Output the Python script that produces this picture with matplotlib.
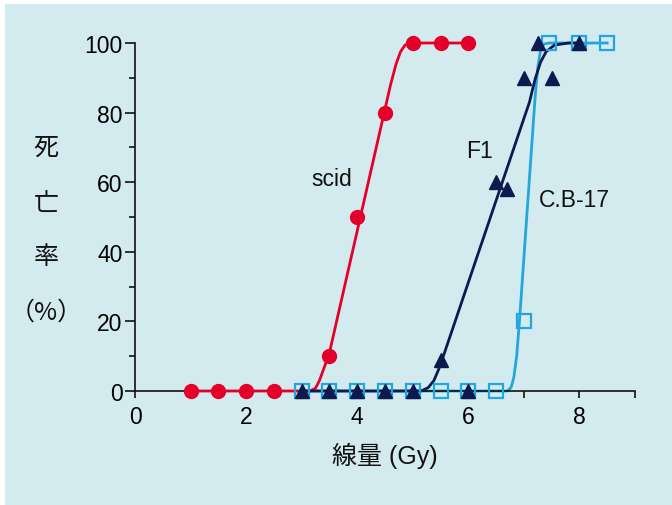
import matplotlib
matplotlib.use("Agg")
import matplotlib.pyplot as plt
from matplotlib.patches import Rectangle

plt.rcParams['font.family'] = ['Liberation Sans', 'Noto Sans CJK JP', 'DejaVu Sans']

# ---- data ----
scid_x = [1, 1.5, 2, 2.5, 3.5, 4, 4.5, 5, 5.5, 6]
scid_y = [0, 0, 0, 0, 10, 50, 80, 100, 100, 100]
f1_x = [3, 3.5, 4, 4.5, 5, 5.5, 6, 6.5, 6.7, 7, 7.5, 7.25, 8]
f1_y = [0, 0, 0, 0, 0, 9, 0, 60, 58, 90, 90, 100, 100]
cb_x = [3, 3.5, 4, 4.5, 5, 5.5, 6, 6.5, 7, 7.45, 8, 8.5]
cb_y = [0, 0, 0, 0, 0, 0, 0, 0, 20, 100, 100, 100]

# fitted curves
scid_fit_x = [1, 3.15, 3.25, 3.32, 3.4, 3.5, 4.6, 4.7, 4.78, 4.86, 4.95, 6]
scid_fit_y = [0, 0, 0.8, 3, 6.5, 11, 88, 94, 97.5, 99.4, 100, 100]
f1_fit_x = [3, 5.15, 5.28, 5.38, 5.46, 5.55, 7.1, 7.2, 7.3, 7.4, 7.55, 7.8, 8]
f1_fit_y = [0, 0, 1, 3, 6, 10, 83, 89.5, 94.5, 97.5, 99.4, 100, 100]
cb_fit_x = [3, 6.7, 6.77, 6.82, 6.87, 6.92, 7.2, 7.25, 7.3, 7.36, 7.45, 8.5]
cb_fit_y = [0, 0, 1, 4, 10, 20, 84, 93, 98, 99.7, 100, 100]

xticks = [0, 2, 4, 6, 8]
yticks = [0, 20, 40, 60, 80, 100]

red = '#e4002b'
navy = '#0d1a4f'
lblue = '#22a6dd'
bg = '#d3ebee'

fig = plt.figure(figsize=(6.72, 5.06), dpi=100, facecolor='white')
fig.patches.append(Rectangle((5/672, 0), 1, 1 - 5/506, transform=fig.transFigure,
                             facecolor=bg, edgecolor='none', zorder=-10))
ax = fig.add_axes([135/672, (506-392)/506, 500/672, 348/506])
ax.set_facecolor('none')
ax.set_xlim(0, 9)
ax.set_ylim(0, 100)
for s in ['top', 'right']:
    ax.spines[s].set_visible(False)
for s in ['left', 'bottom']:
    ax.spines[s].set_linewidth(1.2)
    ax.spines[s].set_color('#111111')

ax.plot(scid_fit_x, scid_fit_y, color=red, lw=2, zorder=3, clip_on=False)
ax.plot(f1_fit_x, f1_fit_y, color=navy, lw=2, zorder=3, clip_on=False)
ax.plot(cb_fit_x, cb_fit_y, color=lblue, lw=2, zorder=2, clip_on=False)

ax.plot(cb_x, cb_y, ls='none', marker='s', ms=9.5, mfc='none', mec=lblue, mew=1.6,
        zorder=4, clip_on=False)
ax.plot(f1_x, f1_y, ls='none', marker='^', ms=10.5, mfc=navy, mec=navy,
        zorder=5, clip_on=False)
ax.plot(scid_x, scid_y, ls='none', marker='o', ms=10, mfc=red, mec=red,
        zorder=5, clip_on=False)

ax.set_xticks(xticks)
ax.set_xticks([1, 3, 5, 7, 9], minor=True)
ax.set_yticks(yticks)
ax.set_yticks([10, 30, 50, 70, 90], minor=True)
ax.tick_params(axis='x', which='both', length=5, width=1.2, color='#111111',
               labelsize=16.5, pad=5)
ax.tick_params(axis='y', which='major', length=7, width=1.2, color='#111111',
               labelsize=16.5, pad=2)
ax.tick_params(axis='y', which='minor', length=4, width=1.2, color='#111111')

ax.text(3.55, 61, 'scid', fontsize=16.5, ha='center', va='center', color='#111111')
ax.text(6.2, 69, 'F1', fontsize=16.5, ha='center', va='center', color='#111111')
ax.text(7.9, 55, 'C.B-17', fontsize=16.5, ha='center', va='center', color='#111111')

ax.set_xlabel('線量 (Gy)', fontsize=18, labelpad=10, color='#111111')

for ch, yp in zip(['死', '亡', '率', '（%）'], [148, 204, 257, 313]):
    fig.text(46/672, 1 - yp/506, ch, fontsize=18, ha='center', va='center',
             family=['Noto Sans CJK JP', 'DejaVu Sans'], color='#111111')

fig.savefig('out.png', dpi=100, facecolor='white')
